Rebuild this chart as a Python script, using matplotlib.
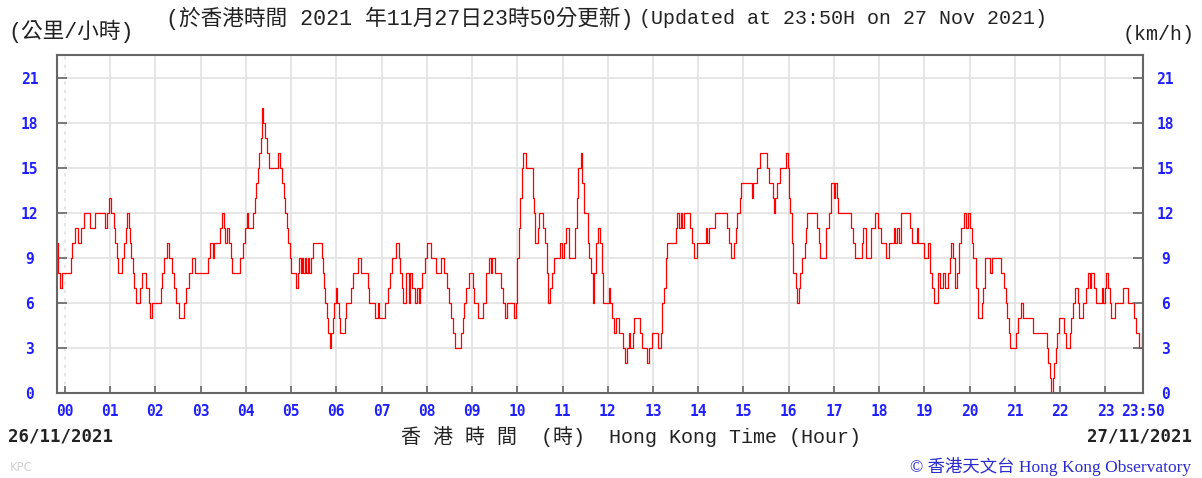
import numpy as np
import matplotlib
matplotlib.use("Agg")
import matplotlib.pyplot as plt

# 10-minute mean wind speed, change points (minutes after 00:00 HKT 27/11/2021, km/h)
minutes = [
    -10, -9, -6, -4, 8, 10, 14, 18, 22, 26, 33, 40, 53, 56, 59, 61, 65, 67, 69, 70,
    76, 78, 81, 83, 85, 86, 88, 90, 92, 94, 100, 102, 108, 111, 113, 115, 127, 129, 132, 136,
    138, 142, 145, 148, 151, 158, 161, 164, 169, 173,
    190, 193, 196, 198, 206, 208, 211, 213, 215, 218, 220, 221, 232, 236, 239, 241, 243, 250,
    252, 254, 256, 258, 260, 261, 262, 263, 266, 268, 271, 283, 285, 288, 290, 292, 294, 296,
    298, 300, 307, 309, 311, 313, 315, 316, 318, 320, 322, 324, 326, 329, 341, 342, 344, 345,
    347, 349, 351, 353, 355, 357, 359, 361, 364, 365,
    371, 373, 380, 382, 389, 393, 402, 404, 411, 415, 417, 424, 428, 431, 434, 439, 443, 445,
    447, 449, 453, 456, 458, 461, 464, 467, 469, 471, 474, 477, 480, 486, 492, 499, 503, 507,
    509, 512, 515, 518, 526, 528, 530, 532, 536, 541, 543, 548,
    554, 558, 559, 563, 565, 567, 571, 578, 581, 584, 586, 596, 598, 600, 602, 604, 606, 608,
    612, 621, 622, 624, 627, 629, 634, 637, 639, 641, 644, 646, 649, 656, 659, 662, 665, 668,
    669, 677, 679, 681, 684, 686, 689, 694, 695, 698, 700, 702, 705, 707, 710, 712, 714,
    722, 723, 726, 728, 731, 735, 740, 743, 746, 748, 750, 753, 755, 763, 765, 772, 775, 779,
    787, 790, 792, 795, 797, 799, 810, 812, 814, 817, 819, 821, 829, 832, 834, 839, 850, 852,
    854, 862, 878, 881, 884, 887, 890, 892, 895, 897,
    907, 911, 912, 918, 922, 931, 934, 939, 940, 942, 945, 948, 956, 959, 961, 962, 964, 966,
    969, 971, 973, 975, 978, 981, 983, 984, 997, 1000, 1001, 1009, 1013, 1016, 1020, 1022,
    1024, 1026, 1042, 1045, 1048, 1057, 1059, 1062, 1069, 1074, 1079, 1082, 1089,
    1093, 1099, 1101, 1103, 1106, 1109, 1121, 1124, 1130, 1132, 1140, 1145, 1148, 1150, 1153,
    1158, 1161, 1164, 1167, 1171, 1174, 1175, 1178, 1180, 1183, 1186, 1189, 1192, 1195, 1198,
    1200, 1203, 1205, 1208, 1209, 1211, 1216, 1218, 1220, 1227, 1230, 1242, 1246, 1248, 1250,
    1252, 1254, 1261, 1264, 1268, 1271, 1284,
    1302, 1304, 1306, 1308, 1311, 1312, 1314, 1316, 1319, 1325, 1328, 1333, 1334, 1337, 1340,
    1343, 1345, 1350, 1354, 1357, 1359, 1361, 1365, 1367, 1375, 1377, 1379, 1381, 1384, 1386,
    1388, 1393, 1403, 1410, 1418, 1421, 1425, 1428, 1430,
]
kmh = [
    10, 8, 7, 8, 9, 10, 11, 10, 11, 12, 11, 12, 11, 12, 13, 12, 11, 10, 9, 8,
    9, 10, 11, 12, 11, 10, 9, 8, 7, 6, 7, 8, 7, 6, 5, 6, 7, 8, 9, 10,
    9, 8, 7, 6, 5, 6, 7, 8, 9, 8,
    9, 10, 9, 10, 11, 12, 11, 10, 11, 10, 9, 8, 9, 10, 11, 12, 11, 12,
    13, 14, 15, 16, 17, 18, 19, 18, 17, 16, 15, 16, 15, 14, 13, 12, 11, 10,
    9, 8, 7, 8, 9, 8, 9, 8, 9, 8, 9, 8, 9, 10, 9, 8, 7, 6,
    5, 4, 3, 4, 5, 6, 7, 6, 5, 4,
    5, 6, 7, 8, 9, 8, 7, 6, 5, 6, 5, 6, 7, 8, 9, 10, 9, 8,
    7, 6, 8, 6, 8, 7, 6, 7, 6, 7, 8, 9, 10, 9, 8, 9, 8, 7,
    6, 5, 4, 3, 4, 5, 6, 7, 8, 7, 6, 5,
    6, 7, 8, 9, 8, 9, 8, 7, 6, 5, 6, 5, 6, 9, 11, 13, 15, 16,
    15, 13, 12, 10, 11, 12, 11, 10, 8, 6, 7, 8, 9, 10, 9, 10, 11, 10,
    9, 11, 13, 15, 16, 14, 12, 10, 9, 8, 6, 8, 10, 11, 10, 8, 6,
    7, 6, 5, 4, 5, 4, 3, 2, 3, 4, 3, 4, 5, 4, 3, 2, 3, 4,
    3, 4, 6, 7, 9, 10, 11, 12, 11, 12, 11, 12, 11, 10, 9, 10, 11, 10,
    11, 12, 11, 10, 9, 10, 11, 12, 13, 14,
    14, 13, 14, 15, 16, 15, 14, 13, 12, 13, 14, 15, 16, 15, 13, 12, 10, 8,
    7, 6, 7, 8, 9, 10, 11, 12, 11, 10, 9, 11, 12, 14, 13, 14,
    13, 12, 11, 10, 9, 10, 11, 9, 11, 12, 11, 10, 9,
    10, 11, 10, 11, 10, 12, 11, 10, 11, 10, 9, 10, 8, 7, 6,
    8, 7, 8, 7, 8, 9, 10, 9, 7, 8, 10, 11, 12, 11, 12,
    11, 10, 9, 8, 7, 5, 6, 7, 9, 8, 9, 8, 7, 6, 5,
    4, 3, 4, 5, 6, 5, 4,
    3, 2, 1, 0, 1, 2, 3, 4, 5, 4, 3, 4, 5, 6, 7,
    6, 5, 6, 7, 8, 7, 8, 7, 6, 7, 6, 7, 8, 7, 6,
    5, 6, 7, 6, 5, 4, 3, 4, 4,
]

hour_ticks = list(range(0, 1440, 60)) + [1430]
hour_labels = ["%02d" % h for h in range(24)] + ["23:50"]
speed_ticks = list(range(0, 22, 3))

blue = "#2020ff"
ink = "#222222"
cjk_mono = ["Liberation Mono", "Noto Sans CJK TC"]

fig = plt.figure(figsize=(12.02, 4.78), dpi=100)
ax = fig.add_axes([0.0477, 0.1772, 0.9033, 0.7077])

ax.plot(minutes, kmh, drawstyle="steps-post", color="#ff0000", linewidth=0.9)

ax.set_xlim(-10, 1430)
ax.set_ylim(0, 22.5)
ax.set_xticks(hour_ticks)
ax.set_xticklabels(hour_labels)
ax.set_yticks(speed_ticks)

ax.grid(True, color="#e2e2e2", linewidth=1.2)
ax.set_axisbelow(True)
ax.get_xgridlines()[0].set_linestyle((0, (2, 3)))

for side in ["left", "right", "top", "bottom"]:
    ax.spines[side].set_color("#666666")
    ax.spines[side].set_linewidth(1.5)

ax.tick_params(axis="x", direction="in", length=5, width=1.2, color="#666666",
               labelcolor=blue, pad=8)
ax.tick_params(axis="y", direction="in", length=7, width=1.2, color="#666666",
               labelcolor=blue, pad=20, right=True)
for lab in ax.get_xticklabels() + ax.get_yticklabels():
    lab.set_fontfamily("DejaVu Sans Mono")
    lab.set_fontweight("bold")
    lab.set_fontsize(10.5)
for lab in ax.get_yticklabels():
    lab.set_horizontalalignment("center")

# right-hand copy of the speed scale
ax2 = ax.twinx()
ax2.set_ylim(ax.get_ylim())
ax2.set_yticks(speed_ticks)
ax2.tick_params(axis="y", direction="in", length=7, width=1.2, color="#666666",
                labelcolor=blue, pad=16)
for lab in ax2.get_yticklabels():
    lab.set_fontfamily("DejaVu Sans Mono")
    lab.set_fontweight("bold")
    lab.set_fontsize(10.5)
    lab.set_horizontalalignment("center")
for side in ax2.spines:
    ax2.spines[side].set_visible(False)

# header: Chinese and English update notes
fig.text(0.527, 0.962, "(於香港時間 2021 年11月27日23時50分更新)",
         ha="right", va="center", fontsize=15.6, family=cjk_mono, color=ink)
fig.text(0.532, 0.962, "(Updated at 23:50H on 27 Nov 2021)",
         ha="left", va="center", fontsize=14.4, family=cjk_mono, color=ink)
fig.text(0.007, 0.935, "(公里/小時)", ha="left", va="center", fontsize=15.6,
         family=cjk_mono, color=ink)
fig.text(0.994, 0.927, "(km/h)", ha="right", va="center", fontsize=14.4,
         family=cjk_mono, color=ink)

fig.text(0.007, 0.086, "26/11/2021", ha="left", va="center", fontsize=12.5,
         family="DejaVu Sans Mono", fontweight="bold", color=ink)
fig.text(0.992, 0.086, "27/11/2021", ha="right", va="center", fontsize=12.5,
         family="DejaVu Sans Mono", fontweight="bold", color=ink)
fig.text(0.525, 0.086, "香 港 時 間  (時)  Hong Kong Time (Hour)", ha="center", va="center",
         fontsize=14.4, family=cjk_mono, color=ink)

fig.text(0.008, 0.021, "KPC", ha="left", va="center", fontsize=8.5,
         family="DejaVu Sans", color="#d2d2d2")
fig.text(0.991, 0.025, "© 香港天文台 Hong Kong Observatory", ha="right", va="center",
         fontsize=12.5, family=["Liberation Serif", "Noto Sans CJK TC"], color="#2a2ad0")

fig.savefig("out.png", dpi=100)
